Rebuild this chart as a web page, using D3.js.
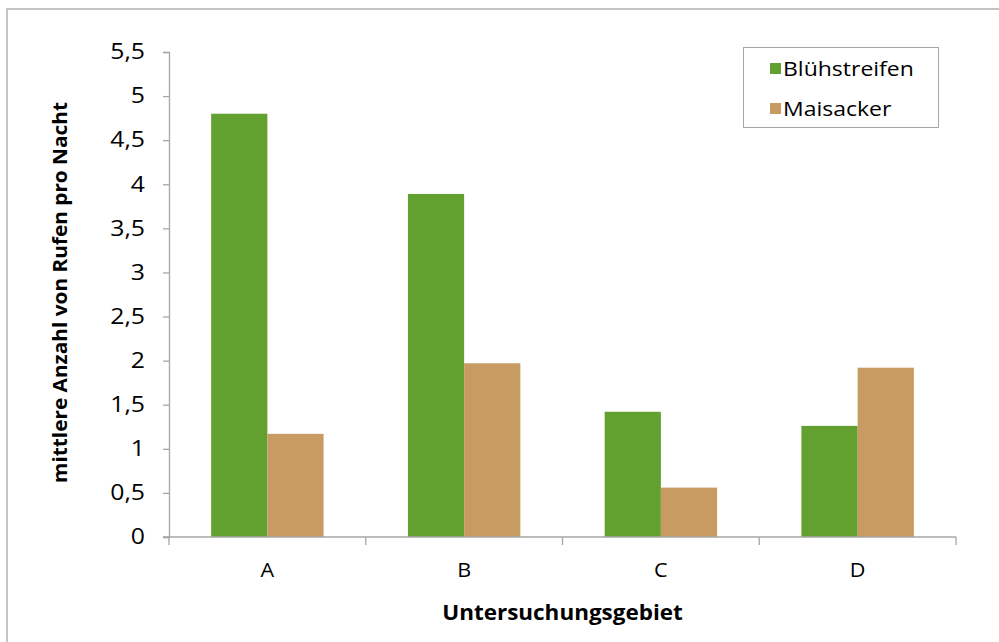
<!DOCTYPE html>
<html>
<head>
<meta charset="utf-8">
<script src="https://cdn.jsdelivr.net/npm/d3@7"></script>
<style>
  html, body { margin: 0; padding: 0; background: #fff; }
  svg { display: block; font-family: "Open Sans", "DejaVu Sans", sans-serif; }
</style>
</head>
<body>
<svg id="chart" width="999" height="642"></svg>
<script>
// Mittlere Anzahl von Rufen pro Nacht je Untersuchungsgebiet
const categories = ["A", "B", "C", "D"];
const seriesNames = ["Blühstreifen", "Maisacker"];
const bluehstreifen = [4.80, 3.89, 1.42, 1.26];
const maisacker = [1.17, 1.97, 0.56, 1.92];
const yTicks = [0, 0.5, 1, 1.5, 2, 2.5, 3, 3.5, 4, 4.5, 5, 5.5];
const colors = ["#62a030", "#c79b61"];

const seriesValues = [bluehstreifen, maisacker];

const svg = d3.select("#chart");
const W = 999, H = 642;
const plot = { left: 169, right: 956, top: 52, bottom: 537 };

// Widen glyphs horizontally around each text's own anchor point
function widen(sel, sx) {
  sel.each(function () {
    const t = d3.select(this);
    const x = +t.attr("x") || 0, y = +t.attr("y") || 0;
    const prev = t.attr("transform") || "";
    t.attr("transform", `${prev} translate(${x},${y}) scale(${sx},1) translate(${-x},${-y})`);
  });
}

// Outer chart frame
svg.append("rect")
  .attr("x", 7).attr("y", 9)
  .attr("width", W).attr("height", H)
  .attr("fill", "#fff")
  .attr("stroke", "#c4c4c4").attr("stroke-width", 2);

const x0 = d3.scaleBand().domain(categories).range([plot.left, plot.right]).paddingInner(0).paddingOuter(0);
const x1 = d3.scaleBand().domain(seriesNames)
  .range([x0.bandwidth() * 0.75 / 3.5, x0.bandwidth() * 2.75 / 3.5]).padding(0);

const y = d3.scaleLinear().domain([0, 5.5]).range([plot.bottom, plot.top]);

const fmt = v => String(v).replace(".", ",");

// Y axis
const yAxis = svg.append("g")
  .attr("transform", `translate(${plot.left},0)`)
  .call(d3.axisLeft(y).tickValues(yTicks).tickFormat(fmt).tickSize(6).tickPadding(18));
yAxis.select(".domain").attr("stroke", "#a6a6a6").attr("stroke-width", 1.3);
yAxis.selectAll(".tick line").attr("stroke", "#a6a6a6").attr("stroke-width", 1.3);
yAxis.selectAll(".tick text")
  .attr("font-size", 21).attr("fill", "#000")
  .attr("font-family", "'Open Sans', sans-serif")
  .call(widen, 1.18);

// Bars
const groups = svg.append("g").selectAll("g")
  .data(categories)
  .join("g")
  .attr("transform", d => `translate(${x0(d)},0)`);

groups.selectAll("rect")
  .data((d, i) => seriesNames.map((s, j) => ({ s, j, v: seriesValues[j][i] })))
  .join("rect")
  .attr("x", d => x1(d.s))
  .attr("width", x1.bandwidth())
  .attr("y", d => y(d.v))
  .attr("height", d => y(0) - y(d.v))
  .attr("fill", d => colors[d.j]);

// X axis
const xAxis = svg.append("g")
  .attr("transform", `translate(0,${plot.bottom})`)
  .call(d3.axisBottom(x0).tickSize(0).tickPadding(0).tickFormat(d => d));
xAxis.select(".domain").remove();
xAxis.append("line")
  .attr("x1", plot.left - 6).attr("x2", plot.right)
  .attr("stroke", "#a6a6a6").attr("stroke-width", 1.3);
xAxis.selectAll(".boundary")
  .data(categories.map(c => x0(c)).concat([plot.right]))
  .join("line")
  .attr("class", "boundary")
  .attr("x1", d => d).attr("x2", d => d)
  .attr("y1", 0).attr("y2", 8)
  .attr("stroke", "#a6a6a6").attr("stroke-width", 1.3);
xAxis.selectAll(".tick text")
  .attr("y", 40).attr("dy", 0)
  .attr("font-size", 20).attr("fill", "#000")
  .attr("font-family", "'Open Sans', sans-serif")
  .call(widen, 1.08);

// Axis titles
svg.append("text")
  .attr("x", (plot.left + plot.right) / 2).attr("y", 620)
  .attr("text-anchor", "middle")
  .attr("font-size", 21).attr("font-weight", "bold")
  .text("Untersuchungsgebiet")
  .call(widen, 1.07);

svg.append("text")
  .attr("transform", `translate(67,${(plot.top + plot.bottom) / 2 - 2}) rotate(-90)`)
  .attr("text-anchor", "middle")
  .attr("font-size", 20).attr("font-weight", "bold")
  .text("mittlere Anzahl von Rufen pro Nacht")
  .call(widen, 1.04);

// Legend
const legend = svg.append("g");
legend.append("rect")
  .attr("x", 743.5).attr("y", 47.5).attr("width", 195).attr("height", 80)
  .attr("fill", "#fff").attr("stroke", "#a6a6a6").attr("stroke-width", 1);
const items = legend.selectAll(".item")
  .data(seriesNames)
  .join("g")
  .attr("class", "item")
  .attr("transform", (d, i) => `translate(770,${63 + i * 40})`);
items.append("rect")
  .attr("width", 11).attr("height", 11)
  .attr("fill", (d, i) => colors[i]);
items.append("text")
  .attr("x", 13).attr("y", 12.5)
  .attr("font-size", 19.5).attr("fill", "#000")
  .text(d => d)
  .call(widen, 1.18);
</script>
</body>
</html>
